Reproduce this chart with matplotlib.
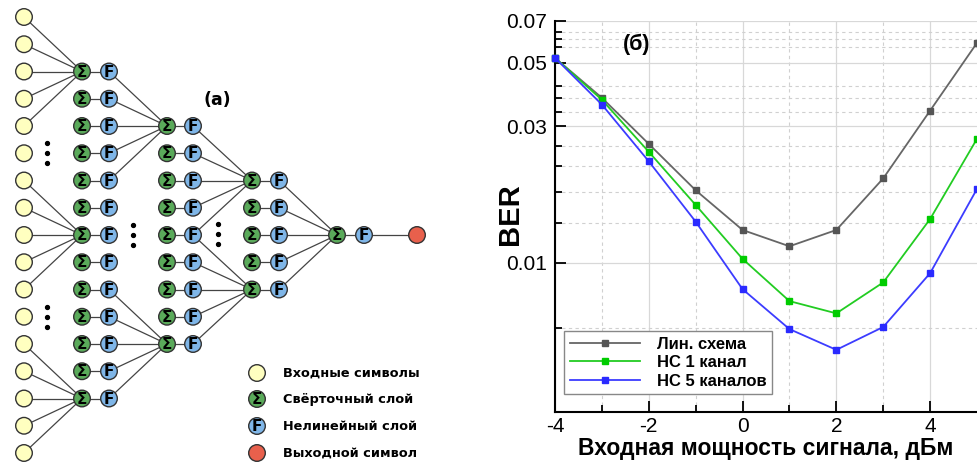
import matplotlib
matplotlib.use("Agg")
import matplotlib.pyplot as plt
from matplotlib.patches import Circle
from matplotlib.ticker import FixedLocator, FixedFormatter, NullFormatter

plt.rcParams["axes.unicode_minus"] = False

# BER vs input power
power = [-4, -3, -2, -1, 0, 1, 2, 3, 4, 5]
ber_lin = [0.052, 0.0377, 0.0260, 0.0179, 0.0130, 0.0114, 0.0130, 0.0197, 0.0340, 0.0587]
ber_nn1 = [0.052, 0.0371, 0.0244, 0.0159, 0.0103, 0.00733, 0.00664, 0.00852, 0.0142, 0.0271]
ber_nn5 = [0.052, 0.0357, 0.0226, 0.0139, 0.00807, 0.00585, 0.00495, 0.00595, 0.00918, 0.0181]
series_names = ["Лин. схема", "НС 1 канал", "НС 5 каналов"]

y_major = [0.01, 0.03, 0.05, 0.07]
y_labels = ["0.01", "0.03", "0.05", "0.07"]
y_minor = [0.0059, 0.0138, 0.0177, 0.0218, 0.0255, 0.0335, 0.0377, 0.0415, 0.0568, 0.0605, 0.064]

legend_names = ["Входные символы", "Свёрточный слой", "Нелинейный слой", "Выходной символ"]

# network structure (rows on a 17-row grid)
n_inputs = 17
layer_rows = [list(range(2, 15)), list(range(4, 13)), list(range(6, 11)), [8]]
# for each layer: (target row, source rows of previous layer)
layer_links = [
    [(2, [0, 1, 2, 3, 4]), (8, [6, 7, 8, 9, 10]), (14, [12, 13, 14, 15, 16])],
    [(4, [2, 3, 4, 5, 6]), (12, [10, 11, 12, 13, 14])],
    [(6, [4, 5, 6, 7, 8]), (10, [8, 9, 10, 11, 12])],
    [(8, [6, 7, 8, 9, 10])],
]

C_IN = "#ffffc0"
C_SUM = "#5aaa5a"
C_F = "#7fb6e8"
C_OUT = "#e8604c"
EDGE = "#333333"

fig = plt.figure(figsize=(9.77, 4.63), dpi=100)

# ---------- left: network diagram ----------
ax_d = fig.add_axes([0, 0, 500 / 977, 1])
ax_d.set_xlim(0, 500)
ax_d.set_ylim(463, 0)
ax_d.axis("off")

x_in = 24
x_sum = [82, 167, 252, 337]
x_f = [109, 193, 279, 364]
x_out = 417
R = 8.3


def row_y(r):
    return 17 + 27.25 * r


def node(x, y, color, sym=None):
    ax_d.add_patch(Circle((x, y), R, facecolor=color, edgecolor=EDGE, lw=1.0, zorder=3))
    if sym:
        ax_d.text(x, y + 0.6, sym, ha="center", va="center", fontsize=11,
                  fontweight="bold", family="DejaVu Sans", zorder=4)


def link(x0, y0, x1, y1):
    ax_d.plot([x0, x1], [y0, y1], color="#444444", lw=0.9, zorder=1)


for r in range(n_inputs):
    node(x_in, row_y(r), C_IN)

prev_x = x_in
for li, rows in enumerate(layer_rows):
    for r in rows:
        node(x_sum[li], row_y(r), C_SUM, "Σ")
        node(x_f[li], row_y(r), C_F, "F")
        link(x_sum[li], row_y(r), x_f[li], row_y(r))
    for tgt, srcs in layer_links[li]:
        for s in srcs:
            link(prev_x, row_y(s), x_sum[li], row_y(tgt))
    prev_x = x_f[li]

node(x_out, row_y(8), C_OUT)
link(x_f[3], row_y(8), x_out, row_y(8))

for dx, dy in [(47, 153), (47, 317), (133, 235), (218, 234)]:
    for k in (-10, 0, 10):
        ax_d.plot(dx, dy + k, "o", color="black", ms=2.8, zorder=2)

ax_d.text(217, 100, "(а)", ha="center", va="center", fontsize=12.5,
          fontweight="bold", family="DejaVu Sans")

leg_y = [373, 399, 426, 453]
leg_col = [C_IN, C_SUM, C_F, C_OUT]
leg_sym = [None, "Σ", "F", None]
for yy, cc, ss, tt in zip(leg_y, leg_col, leg_sym, legend_names):
    node(257, yy, cc, ss)
    ax_d.text(283, yy, tt, ha="left", va="center", fontsize=9.3,
              fontweight="bold", family="DejaVu Sans")

# ---------- right: BER plot ----------
ax = fig.add_axes([555 / 977, 51 / 463, 422 / 977, 391 / 463])
ax.set_yscale("log")

ax.plot(power, ber_lin, "-s", color="#666666", mfc="#555555", mec="#555555",
        lw=1.3, ms=5, label=series_names[0], clip_on=False, zorder=5)
ax.plot(power, ber_nn1, "-s", color="#22cc22", mfc="#00cc00", mec="#00cc00",
        lw=1.3, ms=5, label=series_names[1], clip_on=False, zorder=5)
ax.plot(power, ber_nn5, "-s", color="#3c3cff", mfc="#2a2aff", mec="#2a2aff",
        lw=1.3, ms=5, label=series_names[2], clip_on=False, zorder=5)

ax.set_xlim(-4, 5)
ax.set_ylim(0.003, 0.07)

ax.xaxis.set_major_locator(FixedLocator([-4, -2, 0, 2, 4]))
ax.xaxis.set_major_formatter(FixedFormatter(["-4", "-2", "0", "2", "4"]))
ax.xaxis.set_minor_locator(FixedLocator([-3, -1, 1, 3]))
ax.yaxis.set_major_locator(FixedLocator(y_major))
ax.yaxis.set_major_formatter(FixedFormatter(y_labels))
ax.yaxis.set_minor_locator(FixedLocator(y_minor))
ax.yaxis.set_minor_formatter(NullFormatter())

ax.grid(True, which="major", color="#d8d8d8", lw=0.9, ls="-")
ax.grid(True, which="minor", color="#d0d0d0", lw=0.8, ls=(0, (3, 3)))
ax.set_axisbelow(True)

ax.tick_params(which="both", direction="in", width=1.3, colors="black",
               labelsize=15, labelfontfamily="Liberation Sans")
ax.tick_params(which="major", length=8)
ax.tick_params(which="minor", length=5)
ax.tick_params(axis="y", pad=6)

for sp in ["top", "right"]:
    ax.spines[sp].set_visible(False)
for sp in ["left", "bottom"]:
    ax.spines[sp].set_linewidth(1.5)

ax.set_ylabel("BER", fontsize=21, fontweight="bold", family="Liberation Sans")
ax.yaxis.set_label_coords(-0.073, 0.506)
ax.set_xlabel("Входная мощность сигнала, дБм", fontsize=16.5, fontweight="bold",
              family="Liberation Sans", labelpad=1)

ax.text(0.194, 0.941, "(б)", transform=ax.transAxes, ha="center", va="center",
        fontsize=15.5, fontweight="bold", family="Liberation Sans")

leg = ax.legend(loc="lower left", bbox_to_anchor=(0.022, 0.045), frameon=True,
                fancybox=False, edgecolor="#888888", framealpha=1,
                prop={"family": "Liberation Sans", "weight": "bold", "size": 12},
                handlelength=4.2, borderpad=0.35, labelspacing=0.2,
                handletextpad=1.0, borderaxespad=0)
leg.get_frame().set_linewidth(1.0)

fig.savefig("out.png", dpi=100)
